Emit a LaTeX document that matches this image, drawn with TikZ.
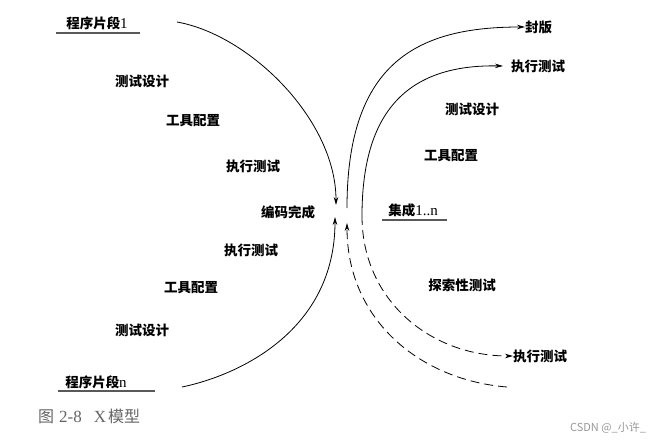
\documentclass[tikz,border=0pt]{standalone}
\usepackage{fontspec}
\setmainfont{Liberation Serif}
\newfontfamily\cjk{Noto Sans CJK SC}
\usetikzlibrary{arrows.meta}
\newcommand\latn[1]{{\rmfamily\mdseries\fontsize{15}{16}\selectfont #1}}
\begin{document}
\begin{tikzpicture}[x=1pt,y=-1pt,
  lbl/.style={font=\cjk\bfseries\fontsize{13.5}{15}\selectfont, inner sep=0pt},
  flow/.style={line width=0.8pt, -{Stealth[length=8pt,width=4.5pt]}},
  dsh/.style={dash pattern=on 9pt off 5pt},
  uline/.style={line width=1.2pt, draw=black!65}]
\useasboundingbox[fill=white] (0,0) rectangle (670,444);

% labels left
\node[lbl] (p1) at (97,23) {程序片段\latn{1}};
\node[lbl] (td1) at (142,81) {测试设计};
\node[lbl] (gj1) at (193,121) {工具配置};
\node[lbl] (zx1) at (253,166) {执行测试};
\node[lbl] (bm) at (288,212) {编码完成};
\node[lbl] (zx2) at (251,250) {执行测试};
\node[lbl] (gj2) at (191,288) {工具配置};
\node[lbl] (td2) at (142,330) {测试设计};
\node[lbl] (pn) at (96,382) {程序片段\latn{n}};
% labels right
\node[lbl, anchor=west] (fb) at (525,27) {封版};
\node[lbl, anchor=west] (zx3) at (511,66) {执行测试};
\node[lbl] (td3) at (472,109) {测试设计};
\node[lbl] (gj3) at (451,156) {工具配置};
\node[lbl] (jc) at (413,210) {集成\latn{1..n}};
\node[lbl] (ts) at (462,285) {探索性测试};
\node[lbl, anchor=west] (zx4) at (513,356) {执行测试};

% caption and watermark
\node[inner sep=0pt, text=black!60, font=\cjk\fontsize{16}{18}\selectfont, anchor=west] (cap) at (38,416)
  {图\hspace{5pt}{\rmfamily\fontsize{17}{18}\selectfont 2-8}\hspace{12pt}{\rmfamily\fontsize{17}{18}\selectfont X}\hspace{2pt}模型};
\node[inner sep=0pt, text=black!40, font=\cjk\fontsize{11}{13}\selectfont] (wm) at (608,428) {CSDN @\_小许\_};

% underlines
\coordinate (u1a) at (56,33); \coordinate (u1b) at (140,33);
\coordinate (una) at (58,391); \coordinate (unb) at (155,391);
\coordinate (uja) at (382,220); \coordinate (ujb) at (447,220);
\draw[uline] (u1a) -- (u1b);
\draw[uline] (una) -- (unb);
\draw[uline] (uja) -- (ujb);

% curve end points
\coordinate (s1) at (177,22);
\coordinate (c1) at (336,205);
\coordinate (sn) at (182,387);
\coordinate (c2) at (335,217);
\coordinate (d1) at (507,387);
\coordinate (c3) at (347,223);
\coordinate (c4) at (347,208);
\coordinate (c5) at (362,216);

% left curves
\draw[flow] (s1) .. controls (250,35) and (336,120) .. (c1);
\draw[flow] (sn) .. controls (240,375) and (335,330) .. (c2);
% outer right curve
\draw[flow, dsh] (d1) .. controls (420,380) and (347,320) .. (c3);
\draw[flow] (c4) .. controls (347,60) and (420,27) .. (fb.west);
% inner right curve
\draw[flow] (c5) .. controls (362,120) and (400,64) .. ([xshift=-8pt]zx3.west);
\draw[flow, dsh] (c5) .. controls (362,300) and (430,356) .. (zx4.west);
\end{tikzpicture}
\end{document}
